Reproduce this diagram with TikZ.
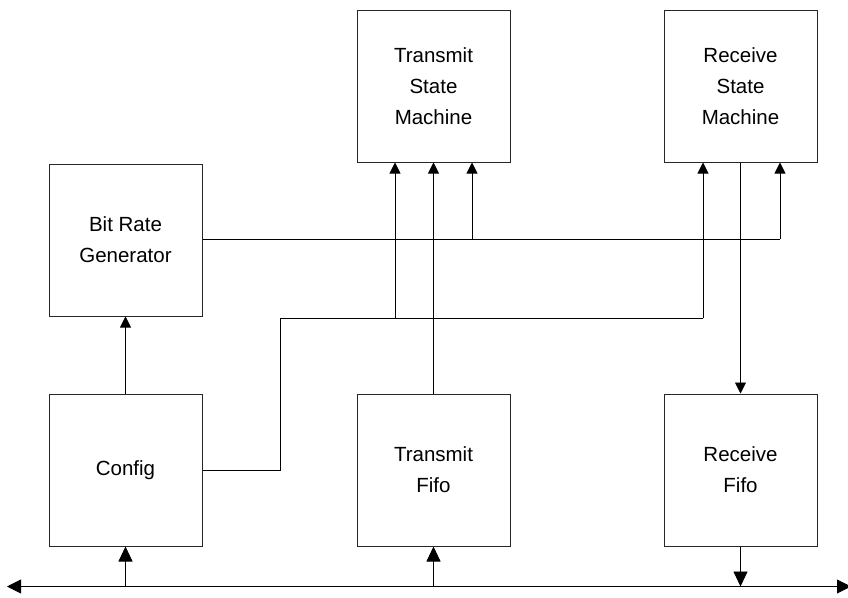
\documentclass[tikz,border=0pt]{standalone}
\usepackage{fontspec}
\setmainfont{Liberation Sans}
\usetikzlibrary{arrows.meta,calc}
\begin{document}
\begin{tikzpicture}[x=1pt,y=-1pt,
  blk/.style={draw=black!85,line width=1pt,rectangle,minimum width=153pt,minimum height=152pt,inner sep=0pt,align=center,font=\fontsize{20.5}{31}\selectfont},
  wire/.style={draw=black,line width=0.9pt},
  sarr/.style={wire,-{Triangle[width=11pt,length=11pt]}},
  barr/.style={wire,-{Triangle[width=14pt,length=15pt]}},
  bus/.style={wire,{Triangle[width=14pt,length=14pt]}-{Triangle[width=14pt,length=14pt]}}]
\useasboundingbox (0,0) rectangle (848,597);
\node[blk] (tsm) at (433.5,86) {Transmit\\State\\Machine};
\node[blk] (rsm) at (740.5,86) {Receive\\State\\Machine};
\node[blk] (brg) at (125.5,240) {Bit Rate\\Generator};
\node[blk] (cfg) at (125.5,470) {Config};
\node[blk] (tf) at (433.5,470) {Transmit\\Fifo};
\node[blk] (rf) at (740.5,470) {Receive\\Fifo};
\coordinate (busL) at (7,586.5);
\coordinate (busR) at (851,586.5);
\draw[bus] (busL) -- (busR);
% bus connections
\draw[barr] (cfg.south |- busL) -- (cfg.south);
\draw[barr] (tf.south |- busL) -- (tf.south);
\draw[barr] (rf.south) -- (rf.south |- busL);
% config to bit rate
\draw[sarr] (cfg.north) -- (brg.south);
% bit rate generator line
\coordinate (b1) at (472,239);
\coordinate (b2) at (780,239);
\draw[wire] (brg.east |- b1) -- (b2);
\draw[sarr] (b2) -- (b2 |- rsm.south);
\draw[sarr] (b1) -- (b1 |- tsm.south);
% config line
\coordinate (c1) at (280,470);
\coordinate (c2) at (280,318);
\coordinate (c3) at (395,318);
\coordinate (c4) at (703,318);
\draw[wire] (cfg.east |- c1) -- (c1) -- (c2) -- (c4);
\draw[sarr] (c4) -- (c4 |- rsm.south);
\draw[sarr] (c3) -- (c3 |- tsm.south);
% transmit fifo to transmit SM
\draw[sarr] (tf.north) -- (tsm.south);
% receive SM to receive fifo
\draw[sarr] (rsm.south) -- (rf.north);
\end{tikzpicture}
\end{document}
